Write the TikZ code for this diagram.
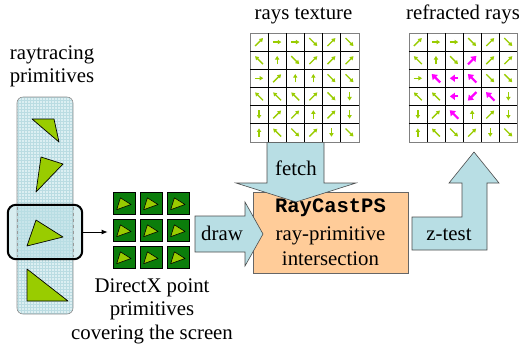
\documentclass[tikz,border=0pt]{standalone}
\usepackage{fontspec}
\setmainfont{Liberation Serif}
\setmonofont{Liberation Mono}
\usetikzlibrary{arrows.meta,calc}
\definecolor{lblue}{HTML}{B8DEE4}
\definecolor{colfill}{HTML}{DCEFF2}
\definecolor{colgrid}{HTML}{BADCE2}
\definecolor{tgreen}{HTML}{99CC00}
\definecolor{dgreen}{HTML}{0B7D0B}
\definecolor{lorange}{HTML}{FFCC99}
\definecolor{mag}{HTML}{FF00FF}
\newcommand\raygrid[3]{%
  \node[gridbox] (#3) at (#1,33) {};
  \foreach \k in {1,...,5} {
    \draw[line width=0.8pt] ({#1+\k*18.1},33) -- ({#1+\k*18.1},141.6);
    \draw[line width=0.8pt] (#1,{33+\k*18.1}) -- ({#1+108.6},{33+\k*18.1});
  }
  \foreach \rowlist [count=\r] in {#2} {
    \foreach \a [count=\c] in \rowlist {
      \ifnum\a=999\relax\else
        \pgfmathsetmacro\L{ifthenelse(mod(\a,90)==0,4.2,5.6)}
        \pgfmathsetmacro\LL{2*\L}
        \pgfmathsetmacro\cx{#1+\c*18.1-9.05}
        \pgfmathsetmacro\cy{33+\r*18.1-9.05}
        \draw[ray] (\cx,\cy) ++(180-\a:\L) -- ++(-\a:\LL);
      \fi
    }
  }
}
\begin{document}
\begin{tikzpicture}[x=1pt,y=-1pt,
  txt/.style={font=\fontsize{20.8}{24}\selectfont, inner sep=0pt, anchor=base},
  blockarrow/.style={fill=lblue, draw=black!70, line width=0.6pt, line join=miter},
  tri/.style={fill=tgreen, draw=black, line width=0.7pt, line join=round},
  ray/.style={tgreen, line width=1.3pt, -{Triangle[length=3.6pt,width=4.2pt]}},
  mray/.style={mag, line width=2.2pt, -{Triangle[length=5pt,width=7pt]}},
  gridbox/.style={draw=black!50, line width=1pt, minimum width=108.6pt, minimum height=108.6pt, anchor=north west, inner sep=0pt, fill=white},
  gcell/.style={fill=dgreen, draw=black, line width=0.7pt, minimum size=22pt, inner sep=0pt}]
\useasboundingbox (0,0) rectangle (521,349);

% ---- left column of raytracing primitives
\node[txt] (t1) at (52,59) {raytracing};
\node[txt] (t2) at (52,82) {primitives};
\node[fill=colfill, draw=black!45, line width=0.6pt, rounded corners=6pt,
      minimum width=56pt, minimum height=217pt, inner sep=0pt,
      path picture={\draw[colgrid, line width=0.3pt, step=3pt]
        (path picture bounding box.south west) grid (path picture bounding box.north east);}]
      (col) at (45,205.5) {};
\node[fill=lblue, fill opacity=0.55, minimum width=74pt, minimum height=54pt,
      rounded corners=8pt, inner sep=0pt] (sel) at (45,232) {};
\draw[black!40, dashed, line width=0.4pt] (17,207) -- (17,257);
\draw[black!40, dashed, line width=0.4pt] (73,207) -- (73,257);
\draw[line width=2pt, rounded corners=8pt] (sel.south west) rectangle (sel.north east);
\draw[tri] (32,119) -- (54,119) -- (59,142) -- cycle;
\draw[tri] (41,157) -- (63,164) -- (36,192) -- cycle;
\draw[tri] (36,220) -- (63,237) -- (27,246) -- cycle;
\draw[tri] (27,269) -- (68,301) -- (27,301) -- cycle;

% ---- DirectX point primitives
\foreach \r in {1,2,3} {
  \foreach \c in {1,2,3} {
    \node[gcell] (g\r\c) at ({124+27*(\c-1)},{203+27*(\r-1)}) {};
    \draw[tri, line width=0.6pt] ([shift={(-7.3,6.7)}]g\r\c.center) --
      ([shift={(-3.6,-5.2)}]g\r\c.center) -- ([shift={(7,1.5)}]g\r\c.center) -- cycle;
  }
}
\draw[line width=0.9pt, -{Latex[length=6pt,width=5pt]}, shorten >=5pt]
  (sel.east) -- (sel.east -| g21.west);
\node[txt] (d1) at (152,292) {DirectX point};
\node[txt] (d2) at (152,315) {primitives};
\node[txt] (d3) at (152,339) {covering the screen};

% ---- ray grids
\node[txt] (rt) at (303.5,19.5) {rays texture};
\node[txt] (rr) at (463,19.5) {refracted rays};
\raygrid{250}{{45,0,0,-45,45,-45},{135,90,-45,45,45,45},{0,45,90,90,-45,-45},{135,135,135,45,-45,-90},{-90,45,45,90,45,-90},{90,135,-45,45,-90,-45}}{tex}
\raygrid{408.8}{{45,0,0,-45,45,-45},{135,90,-45,999,45,45},{0,999,999,999,-45,-45},{135,135,999,999,999,-90},{-90,45,999,90,45,-90},{90,135,-45,45,-90,-45}}{ref}
% magenta refracted rays
\foreach \c/\r/\a in {4/2/45, 2/3/135, 3/3/180, 4/3/135, 3/4/180, 4/4/-135, 5/4/135, 3/5/135} {
  \pgfmathsetmacro\L{ifthenelse(mod(\a,90)==0,4.2,6)}
  \pgfmathsetmacro\LL{2*\L}
  \pgfmathsetmacro\cx{408.8+\c*18.1-9.05}
  \pgfmathsetmacro\cy{33+\r*18.1-9.05}
  \draw[mray] (\cx,\cy) ++(180-\a:\L) -- ++(-\a:\LL);
}

% ---- RayCastPS box
\node[fill=lorange, draw=black!60, line width=0.6pt, minimum width=155pt,
      minimum height=81pt, inner sep=0pt] (box) at (330.5,232.5) {};
\node[txt, font=\ttfamily\bfseries\fontsize{20.5}{24}\selectfont] (b1) at (330.5,212.7) {RayCastPS};
\node[txt] (b2) at (330.5,240.7) {ray-primitive};
\node[txt] (b3) at (330.5,265) {intersection};

% ---- block arrows
\draw[blockarrow] (tex.south -| 267,0) -- (tex.south -| 324,0) -- (324,183) -- (356,183)
  -- (296,202) -- (236,183) -- (267,183) -- cycle;
\node[txt] (fetch) at (296,175) {fetch};
\draw[blockarrow] (195,216) -- (245,216) -- (245,202) -- (263,234) -- (245,266)
  -- (245,252) -- (195,252) -- cycle;
\node[txt] (draw) at (222,240) {draw};
\draw[blockarrow] (412,217) -- (462,217) -- (462,183) -- (449,183) -- (474,152)
  -- (499,183) -- (487,183) -- (487,250) -- (412,250) -- cycle;
\node[txt] (zt) at (449,240) {z-test};
\end{tikzpicture}
\end{document}
